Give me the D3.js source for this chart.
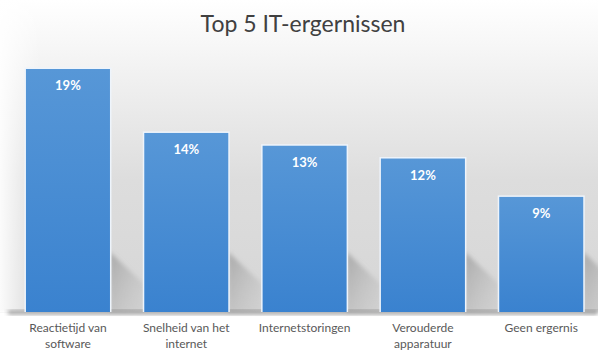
<!DOCTYPE html>
<html><head><meta charset="utf-8">
<script src="https://cdn.jsdelivr.net/npm/d3@7"></script>
<style>body{margin:0;background:#fff}svg{display:block}</style>
</head><body>
<svg id="c" width="598" height="360"></svg>
<script>
const title = "Top 5 IT-ergernissen";
const categories = [["Reactietijd van","software"],["Snelheid van het","internet"],["Internetstoringen"],["Verouderde","apparatuur"],["Geen ergernis"]];
const values = [19, 14, 13, 12, 9];
const valueLabels = ["19%","14%","13%","12%","9%"];

const W = 598, H = 360;
const svg = d3.select("#c");
const defs = svg.append("defs");

const bg = defs.append("linearGradient").attr("id","bg").attr("x1",0).attr("y1",0).attr("x2",0).attr("y2",1);
bg.append("stop").attr("offset","0%").attr("stop-color","#ffffff");
bg.append("stop").attr("offset","12%").attr("stop-color","#f7f7f7");
bg.append("stop").attr("offset","50%").attr("stop-color","#dddddd");
bg.append("stop").attr("offset","86%").attr("stop-color","#d6d6d6");
bg.append("stop").attr("offset","87%").attr("stop-color","#ffffff");
bg.append("stop").attr("offset","100%").attr("stop-color","#ffffff");

const lg = defs.append("linearGradient").attr("id","lg").attr("x1",0).attr("y1",0).attr("x2",1).attr("y2",0);
lg.append("stop").attr("offset","0%").attr("stop-color","#ffffff").attr("stop-opacity",0.9);
lg.append("stop").attr("offset","100%").attr("stop-color","#ffffff").attr("stop-opacity",0);

const barG = defs.append("linearGradient").attr("id","barG").attr("x1",0).attr("y1",0).attr("x2",0).attr("y2",1);
barG.append("stop").attr("offset","0%").attr("stop-color","#5797d7");
barG.append("stop").attr("offset","100%").attr("stop-color","#3a82cf");

const shG = defs.append("linearGradient").attr("id","shG").attr("x1",0).attr("y1",0).attr("x2",1).attr("y2",1);
shG.append("stop").attr("offset","0%").attr("stop-color","#8f8f8f").attr("stop-opacity",0.65);
shG.append("stop").attr("offset","100%").attr("stop-color","#bdbdbd").attr("stop-opacity",0.2);

const blur = defs.append("filter").attr("id","blur").attr("x","-20%").attr("y","-50%").attr("width","140%").attr("height","200%");
blur.append("feGaussianBlur").attr("stdDeviation",2);

svg.append("rect").attr("width",W).attr("height",H).attr("fill","url(#bg)");
svg.append("rect").attr("width",40).attr("height",312).attr("fill","url(#lg)");

const x = d3.scaleBand().domain(d3.range(categories.length)).range([8.8, 600.4]).paddingInner(0.29).paddingOuter(0.145);
const y = d3.scaleLinear().domain([0, 19]).range([312, 69]);

// shadows behind bars
svg.append("g").selectAll("path").data(values).join("path")
  .attr("d",(d,i)=>{
    const x1 = x(i)+x.bandwidth();
    const yt = Math.max(y(d), 252);
    return `M${x1},${yt} L${x1+34},${yt+32} L${x1+34},312 L${x1},312 Z`;
  })
  .attr("fill","url(#shG)").attr("filter","url(#blur)");

// baseline shadow
svg.append("rect").attr("x",8).attr("y",311).attr("width",590).attr("height",3)
  .attr("fill","#555").attr("opacity",0.75).attr("filter","url(#blur)");

// bar glow outlines
svg.append("g").selectAll("rect").data(values).join("rect")
  .attr("x",(d,i)=>x(i)-1.5).attr("y",d=>y(d)-1.5)
  .attr("width",x.bandwidth()+3).attr("height",d=>312-y(d)+1.5)
  .attr("fill","#eef4fb");

svg.append("g").selectAll("rect").data(values).join("rect")
  .attr("x",(d,i)=>x(i)).attr("y",d=>y(d))
  .attr("width",x.bandwidth()).attr("height",d=>312-y(d))
  .attr("fill","url(#barG)");

svg.append("g").selectAll("text").data(values).join("text")
  .attr("x",(d,i)=>x(i)+x.bandwidth()/2).attr("y",d=>y(d)+21)
  .attr("text-anchor","middle").attr("fill","#ffffff")
  .attr("font-family","Lato, 'Open Sans', sans-serif").attr("font-weight","bold").attr("font-size",13)
  .text((d,i)=>valueLabels[i]);

const cat = svg.append("g").selectAll("text").data(categories).join("text")
  .attr("x",(d,i)=>x(i)+x.bandwidth()/2).attr("y",332)
  .attr("text-anchor","middle").attr("fill","#595959")
  .attr("font-family","Lato, 'Open Sans', sans-serif").attr("font-size",12);
cat.selectAll("tspan").data(d=>d).join("tspan")
  .attr("x",function(){return this.parentNode.getAttribute("x");})
  .attr("dy",(d,j)=>j===0?0:16).text(d=>d);

svg.append("text").attr("x",303).attr("y",32).attr("text-anchor","middle")
  .attr("fill","#404040").attr("font-family","Lato, 'Open Sans', sans-serif").attr("font-size",23)
  .text(title);
</script>
</body></html>
